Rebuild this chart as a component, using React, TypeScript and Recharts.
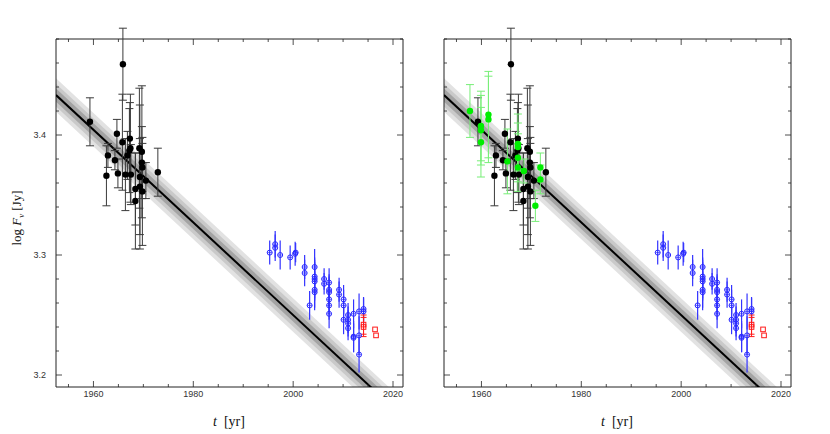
import React from 'react'
import {
  ComposedChart,
  Scatter,
  Line,
  Area,
  XAxis,
  YAxis,
  ErrorBar,
  ReferenceArea,
} from 'recharts'

// fit line + uncertainty bands
const fitYears = [1952.5, 2022]
const fitFlux = [3.4333, 3.165]
const bandInner = 0.0055
const bandMiddle = 0.0095
const bandOuter = 0.014

// black points (filled)
const blackYear = [1959.3, 1965.9, 1962.6, 1962.9, 1964.3, 1964.7, 1964.9, 1965.8, 1966.4, 1966.8, 1967.2, 1967.3, 1967.4, 1967.5, 1968.4, 1968.4, 1969.2, 1969.3, 1969.3, 1969.7, 1969.7, 1969.8, 1969.8, 1970.5, 1972.9]
const blackFlux = [3.411, 3.459, 3.366, 3.383, 3.379, 3.401, 3.368, 3.394, 3.367, 3.383, 3.387, 3.397, 3.389, 3.367, 3.355, 3.345, 3.389, 3.365, 3.357, 3.386, 3.377, 3.353, 3.373, 3.362, 3.369]
const blackErr = [0.02, 0.03, 0.025, 0.01, 0.008, 0.012, 0.012, 0.04, 0.03, 0.02, 0.035, 0.03, 0.045, 0.025, 0.03, 0.04, 0.05, 0.06, 0.04, 0.055, 0.03, 0.045, 0.02, 0.015, 0.02]

// blue open circles
const blueYear = [1995.3, 1996.4, 1996.4, 1997.4, 1999.4, 2000.4, 2000.5, 2002.3, 2002.3, 2003.3, 2004.3, 2004.3, 2004.3, 2004.3, 2004.3, 2004.3, 2006.2, 2006.2, 2007.2, 2007.2, 2007.2, 2007.2, 2007.2, 2007.2, 2009.2, 2009.2, 2010.1, 2010.1, 2010.1, 2011.0, 2011.0, 2011.0, 2011.0, 2012.1, 2012.1, 2012.1, 2013.2, 2013.2, 2013.2, 2014.1, 2014.1]
const blueFlux = [3.302, 3.309, 3.306, 3.300, 3.298, 3.301, 3.302, 3.290, 3.285, 3.258, 3.290, 3.282, 3.280, 3.278, 3.271, 3.269, 3.280, 3.276, 3.277, 3.271, 3.269, 3.263, 3.258, 3.251, 3.271, 3.267, 3.263, 3.258, 3.246, 3.250, 3.246, 3.243, 3.239, 3.251, 3.232, 3.231, 3.253, 3.233, 3.217, 3.255, 3.253]
const blueErr = [0.01, 0.011, 0.011, 0.012, 0.01, 0.01, 0.008, 0.01, 0.011, 0.012, 0.015, 0.016, 0.016, 0.016, 0.015, 0.015, 0.009, 0.009, 0.012, 0.013, 0.013, 0.012, 0.012, 0.012, 0.01, 0.011, 0.012, 0.013, 0.012, 0.01, 0.011, 0.011, 0.01, 0.012, 0.013, 0.012, 0.015, 0.016, 0.015, 0.01, 0.011]

// red open squares
const redYear = [2014.1, 2014.1, 2016.4, 2016.6]
const redFlux = [3.242, 3.240, 3.238, 3.233]
const redErr = [0.008, 0.008, 0, 0]

// green points (right panel only)
const greenYear = [1957.7, 1959.9, 1959.9, 1959.9, 1961.4, 1961.4, 1965.2, 1967.3, 1967.3, 1967.3, 1967.3, 1968.5, 1970.8, 1971.8, 1971.8]
const greenFlux = [3.420, 3.4075, 3.404, 3.394, 3.417, 3.413, 3.378, 3.3925, 3.390, 3.381, 3.373, 3.370, 3.341, 3.373, 3.363]
const greenErr = [0.022, 0.029, 0.029, 0.029, 0.036, 0.036, 0.027, 0.025, 0.02, 0.02, 0.02, 0.01, 0.013, 0.012, 0.012]

const xTicks = [1955, 1960, 1965, 1970, 1975, 1980, 1985, 1990, 1995, 2000, 2005, 2010, 2015, 2020]
const yTicks = [3.2, 3.22, 3.24, 3.26, 3.28, 3.3, 3.32, 3.34, 3.36, 3.38, 3.4, 3.42, 3.44, 3.46, 3.48]
const X_DOMAIN = [1952.5, 2022]
const Y_DOMAIN = [3.19, 3.48]

// each group gets its own keys so the error bars stay with their series
const toPoints = (years: number[], flux: number[], err: number[], fKey: string, eKey: string) =>
  years.map((year, i) => ({ year, [fKey]: flux[i], [eKey]: err[i] }))

const bandData = fitYears.map((year, i) => ({
  year,
  fit: fitFlux[i],
  outer: [fitFlux[i] - bandOuter, fitFlux[i] + bandOuter],
  middle: [fitFlux[i] - bandMiddle, fitFlux[i] + bandMiddle],
  inner: [fitFlux[i] - bandInner, fitFlux[i] + bandInner],
}))

const blackData = toPoints(blackYear, blackFlux, blackErr, 'fBlack', 'eBlack')
const blueData = toPoints(blueYear, blueFlux, blueErr, 'fBlue', 'eBlue')
const redData = toPoints(redYear, redFlux, redErr, 'fRed', 'eRed')
const greenData = toPoints(greenYear, greenFlux, greenErr, 'fGreen', 'eGreen')

const filledDot = (color: string, r: number) => (props: any) => {
  if (props.cx == null) return <g />
  return <circle cx={props.cx} cy={props.cy} r={r} fill={color} />
}

const openCircle = (props: any) => {
  if (props.cx == null) return <g />
  return (
    <g>
      <circle cx={props.cx} cy={props.cy} r={2.5} fill="none" stroke="#2a2aff" strokeWidth={1} />
      <line x1={props.cx - 2.5} x2={props.cx + 2.5} y1={props.cy} y2={props.cy} stroke="#2a2aff" strokeWidth={0.7} />
    </g>
  )
}

const openSquare = (props: any) => {
  if (props.cx == null) return <g />
  return (
    <rect x={props.cx - 2.3} y={props.cy - 2.3} width={4.6} height={4.6} fill="none" stroke="#ff1a1a" strokeWidth={1} />
  )
}

function makeXTick(top: number, bottom: number) {
  return (props: any) => {
    const { x, payload } = props
    const major = payload.value % 20 === 0
    const len = major ? 6 : 3
    return (
      <g>
        <line x1={x} x2={x} y1={bottom} y2={bottom - len} stroke="#222" strokeWidth={0.8} />
        <line x1={x} x2={x} y1={top} y2={top + len} stroke="#222" strokeWidth={0.8} />
        {major && (
          <text x={x} y={bottom + 10} textAnchor="middle" fontSize={9} fill="#333" fontFamily="'Liberation Sans', Arial, sans-serif">
            {payload.value}
          </text>
        )}
      </g>
    )
  }
}

function makeYTick(left: number, right: number, labels: boolean) {
  return (props: any) => {
    const { y, payload } = props
    const v = payload.value
    const major = Math.abs(v * 10 - Math.round(v * 10)) < 1e-6
    const len = major ? 6 : 3
    return (
      <g>
        <line x1={left} x2={left + len} y1={y} y2={y} stroke="#222" strokeWidth={0.8} />
        <line x1={right} x2={right - len} y1={y} y2={y} stroke="#222" strokeWidth={0.8} />
        {major && labels && (
          <text x={left - 10} y={y + 3} textAnchor="end" fontSize={9} fill="#333" fontFamily="'Liberation Sans', Arial, sans-serif">
            {v.toFixed(1)}
          </text>
        )}
      </g>
    )
  }
}

function Panel({ left, showYLabels, showGreen }: { left: number; showYLabels: boolean; showGreen: boolean }) {
  const width = 415
  const height = 434
  const plotLeft = left
  const plotRight = left + 347
  const plotTop = 39
  const plotBottom = 387
  const yAxisWidth = 20
  return (
    <ComposedChart
      width={width}
      height={height}
      margin={{ top: plotTop, right: width - plotRight, bottom: height - plotBottom - 30, left: plotLeft - yAxisWidth }}
    >
      <XAxis
        dataKey="year"
        type="number"
        domain={X_DOMAIN}
        ticks={xTicks}
        interval={0}
        allowDataOverflow
        axisLine={false}
        tickLine={false}
        height={30}
        tick={makeXTick(plotTop, plotBottom)}
      />
      <YAxis
        type="number"
        domain={Y_DOMAIN}
        ticks={yTicks}
        interval={0}
        allowDataOverflow
        axisLine={false}
        tickLine={false}
        width={yAxisWidth}
        tick={makeYTick(plotLeft, plotRight, showYLabels)}
      />
      <Area data={bandData} dataKey="outer" type="linear" stroke="none" fill="#e2e2e2" fillOpacity={1} isAnimationActive={false} />
      <Area data={bandData} dataKey="middle" type="linear" stroke="none" fill="#c9c9c9" fillOpacity={1} isAnimationActive={false} />
      <Area data={bandData} dataKey="inner" type="linear" stroke="none" fill="#a3a3a3" fillOpacity={1} isAnimationActive={false} />
      <Line data={bandData} dataKey="fit" type="linear" stroke="#000" strokeWidth={2} dot={false} isAnimationActive={false} />
      <Scatter id="black" data={blackData} dataKey="fBlack" shape={filledDot('#000', 3.2)} isAnimationActive={false}>
        <ErrorBar dataKey="eBlack" direction="y" width={4} stroke="#3a3a3a" strokeWidth={1} />
      </Scatter>
      {showGreen && (
        <Scatter id="green" data={greenData} dataKey="fGreen" shape={filledDot('#00ee00', 3.2)} isAnimationActive={false}>
          <ErrorBar dataKey="eGreen" direction="y" width={4} stroke="#77ee77" strokeWidth={1} />
        </Scatter>
      )}
      <Scatter id="blue" data={blueData} dataKey="fBlue" shape={openCircle} isAnimationActive={false}>
        <ErrorBar dataKey="eBlue" direction="y" width={0} stroke="#3333ff" strokeWidth={1.2} />
      </Scatter>
      <Scatter id="red" data={redData} dataKey="fRed" shape={openSquare} isAnimationActive={false}>
        <ErrorBar dataKey="eRed" direction="y" width={3} stroke="#ff1a1a" strokeWidth={1} />
      </Scatter>
      <ReferenceArea x1={X_DOMAIN[0]} x2={X_DOMAIN[1]} y1={Y_DOMAIN[0]} y2={Y_DOMAIN[1]} fill="none" stroke="#222" strokeWidth={1} ifOverflow="visible" />
    </ComposedChart>
  )
}

export default function App() {
  const serif = "'Liberation Serif', 'DejaVu Serif', serif"
  return (
    <div style={{ position: 'absolute', left: 0, top: 0, width: 830, height: 434, background: '#fff' }}>
      <div style={{ position: 'absolute', left: 0, top: 0 }}>
        <Panel left={56} showYLabels showGreen={false} />
      </div>
      <div style={{ position: 'absolute', left: 415, top: 0 }}>
        <Panel left={29} showYLabels={false} showGreen />
      </div>
      <svg width={830} height={434} style={{ position: 'absolute', left: 0, top: 0, pointerEvents: 'none' }}>
        <text transform="translate(21,218) rotate(-90)" textAnchor="middle" fontSize={13} fontFamily={serif} fill="#111">
          log <tspan fontStyle="italic">F</tspan>
          <tspan fontSize={9} dy={3} fontStyle="italic">ν</tspan>
          <tspan dy={-3} dx={3}>[Jy]</tspan>
        </text>
        <text x={229} y={426} textAnchor="middle" fontSize={14} fontFamily={serif} fill="#111">
          <tspan fontStyle="italic">t</tspan>
          <tspan dx={7}>[yr]</tspan>
        </text>
        <text x={617} y={426} textAnchor="middle" fontSize={14} fontFamily={serif} fill="#111">
          <tspan fontStyle="italic">t</tspan>
          <tspan dx={7}>[yr]</tspan>
        </text>
      </svg>
    </div>
  )
}
